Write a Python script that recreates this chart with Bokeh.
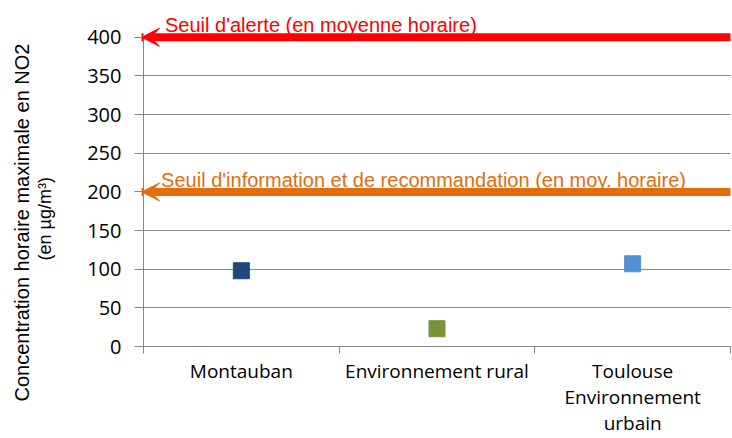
import numpy as np
from bokeh.plotting import figure
from bokeh.models import (Range1d, FixedTicker, Arrow, VeeHead, Label, Title,
                          ColumnDataSource, LinearAxis)
from bokeh.embed import file_html
from bokeh.resources import INLINE

# ---- data ----
categories = ["Montauban", "Environnement rural", "Toulouse\nEnvironnement\nurbain"]
values = [98, 23, 107]
colors = ["#1F497D", "#77933C", "#558ED5"]
y_ticks = [0, 50, 100, 150, 200, 250, 300, 350, 400]
seuil_alerte = 400
seuil_info = 200
label_alerte = "Seuil d'alerte (en moyenne horaire)"
label_info = "Seuil d'information et de recommandation (en moy. horaire)"
y_title_1 = "Concentration horaire maximale en NO2"
y_title_2 = "(en µg/m³)"

GRID = "#868686"

xs = np.arange(len(categories)) + 0.5
src = ColumnDataSource(dict(x=xs, y=values, color=colors, cat=categories))

p = figure(width=732, height=438, output_backend="svg", toolbar_location=None,
           x_range=Range1d(0, len(categories)), y_range=Range1d(0, 445),
           min_border_left=143, min_border_right=2, min_border_top=2,
           min_border_bottom=91)
p.outline_line_color = None
p.background_fill_color = "white"

# markers
p.scatter("x", "y", source=src, marker="square", size=16,
          fill_color="color", line_color="color")

# x axis
xt = FixedTicker(ticks=list(xs), minor_ticks=list(range(len(categories) + 1)))
p.xaxis.ticker = xt
p.xaxis.major_label_overrides = {float(x): c for x, c in zip(xs, categories)}
p.xaxis.major_tick_line_color = None
p.xaxis.major_tick_out = 0
p.xaxis.major_tick_in = 0
p.xaxis.minor_tick_line_color = GRID
p.xaxis.minor_tick_out = 7
p.xaxis.minor_tick_in = 0
p.xaxis.axis_line_color = GRID
p.xaxis.major_label_text_font = "Open Sans"
p.xaxis.major_label_text_font_size = "19px"
p.xaxis.major_label_text_color = "black"
p.xaxis.major_label_text_line_height = 1.0
p.xaxis.major_label_standoff = 4
p.xgrid.visible = False

# y axis
p.yaxis.ticker = FixedTicker(ticks=y_ticks)
p.yaxis.bounds = (0, 400)
p.yaxis.axis_line_color = GRID
p.yaxis.major_tick_line_color = GRID
p.yaxis.major_tick_out = 9
p.yaxis.major_tick_in = 0
p.yaxis.minor_tick_line_color = None
p.yaxis.major_label_text_font = "Open Sans"
p.yaxis.major_label_text_font_size = "20px"
p.yaxis.major_label_text_color = "black"
p.yaxis.major_label_standoff = 13
p.ygrid.ticker = FixedTicker(ticks=y_ticks)
p.ygrid.grid_line_color = GRID
p.ygrid.grid_line_alpha = 1.0

# spacer axis: one white tick, no label, pushes the side titles outward
spacer = LinearAxis(ticker=FixedTicker(ticks=[0]), axis_line_color=None,
                    major_tick_line_color="white", minor_tick_line_color=None,
                    major_tick_out=29, major_tick_in=0, minor_tick_out=0,
                    major_label_text_color=None,
                    major_label_standoff=0, axis_label_standoff=0)
p.add_layout(spacer, "left")

# threshold arrows
for yv, col, txt, ty, tx in [(seuil_alerte, "#FF0000", label_alerte, seuil_alerte + 16, 0.11),
                             (seuil_info, "#E46C0A", label_info, seuil_info + 15, 0.09)]:
    arr = Arrow(end=VeeHead(size=18, fill_color=col, line_color=col, line_width=1),
                x_start=len(categories) + 0.05, y_start=yv,
                x_end=-0.01, y_end=yv, line_color=col, line_width=8)
    p.add_layout(arr)
    p.add_layout(Label(x=tx, y=ty, text=txt, text_font="Liberation Sans",
                       text_font_size="20px", text_color=col,
                       text_baseline="alphabetic", text_align="left"))

# y title (two lines, rotated) as side titles
t2 = Title(text=y_title_2, align="left", offset=86, standoff=1,
           text_font="Liberation Sans", text_font_size="18px",
           text_font_style="normal", text_color="black")
t1 = Title(text=y_title_1, align="left", offset=-55, standoff=0,
           text_font="Liberation Sans", text_font_size="20px",
           text_font_style="normal", text_color="black")
p.add_layout(t2, "left")
p.add_layout(t1, "left")

open("out.html", "w").write(file_html(p, INLINE))
